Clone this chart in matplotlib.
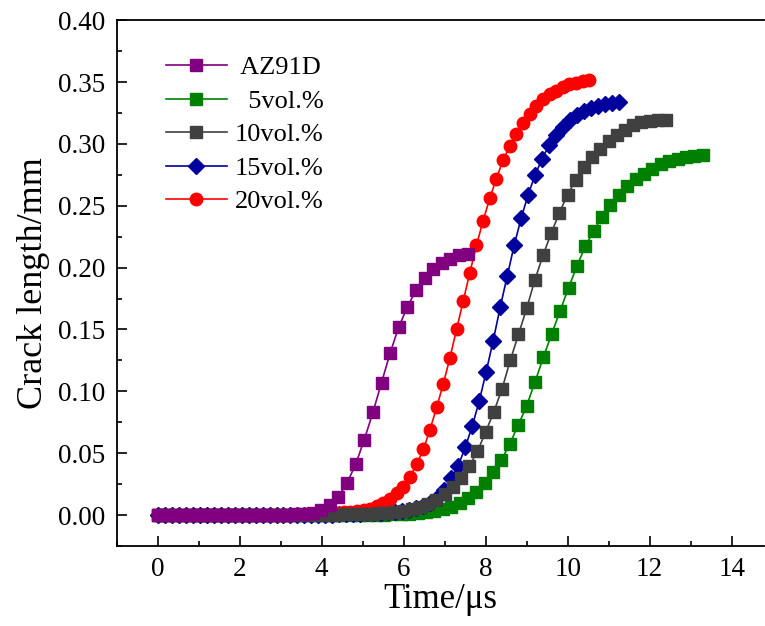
import numpy as np
import matplotlib
matplotlib.use("Agg")
import matplotlib.pyplot as plt
from matplotlib.ticker import MultipleLocator

plt.rcParams['font.family'] = ['Liberation Serif', 'DejaVu Serif']
plt.rcParams['mathtext.fontset'] = 'stix'

# Sampling step (μs) of each simulated crack-growth record
step_az91d = 0.21
step_5 = 0.2045
step_10 = 0.2
step_15 = 0.1705
step_20 = 0.162

# Crack length (mm) at each time step
crack_az91d = [0, 0, 0, 0, 0, 0, 0, 0, 0, 0, 0, 0, 0, 0, 0, 0,
               0.0005, 0.001, 0.002, 0.004, 0.008, 0.015, 0.026, 0.041, 0.061,
               0.083, 0.107, 0.131, 0.152, 0.168, 0.182, 0.192, 0.199, 0.204,
               0.207, 0.210, 0.211]

crack_5 = [0, 0, 0, 0, 0, 0, 0, 0, 0, 0, 0, 0, 0, 0, 0, 0, 0, 0, 0, 0, 0, 0, 0, 0, 0, 0,
           0.0002, 0.0003, 0.0005, 0.0008, 0.0012, 0.0017, 0.0024, 0.0033, 0.0046, 0.0066,
           0.0097, 0.0138, 0.019, 0.026, 0.0345, 0.0445, 0.0575, 0.0728, 0.088, 0.1075,
           0.1275, 0.1465, 0.1652, 0.1835, 0.2012, 0.2172, 0.2297, 0.241, 0.2508, 0.259,
           0.2656, 0.2715, 0.2758, 0.28, 0.2836, 0.286, 0.2878, 0.289, 0.290, 0.291]

crack_10 = [0, 0, 0, 0, 0, 0, 0, 0, 0, 0, 0, 0, 0, 0, 0, 0, 0, 0, 0, 0,
            0.0002, 0.0003, 0.0004, 0.0006, 0.0008, 0.001, 0.0012, 0.0015, 0.002, 0.0025,
            0.0033, 0.0045, 0.0062, 0.0088, 0.0125, 0.0172, 0.023, 0.030, 0.0395, 0.0515,
            0.0672, 0.0835, 0.102, 0.125,
            0.146, 0.167, 0.190, 0.210, 0.228, 0.2445, 0.259, 0.271, 0.281, 0.289, 0.296,
            0.302, 0.3075, 0.3115, 0.315, 0.3175, 0.3185, 0.319, 0.3195]

crack_15 = [0, 0, 0, 0, 0, 0, 0, 0, 0, 0, 0, 0, 0, 0, 0, 0, 0, 0, 0, 0, 0, 0, 0, 0, 0,
            0.0003, 0.0005, 0.0007, 0.0009, 0.0011, 0.0014, 0.0017, 0.002, 0.0023, 0.0027,
            0.0032, 0.004, 0.0055, 0.0075, 0.010, 0.014,
            0.020, 0.0296, 0.040, 0.0547, 0.072, 0.092, 0.116, 0.141, 0.168, 0.193, 0.218,
            0.240, 0.259, 0.275, 0.288, 0.299, 0.307, 0.314, 0.319, 0.323, 0.3267, 0.329,
            0.331, 0.332, 0.333, 0.334]

crack_20 = [0, 0, 0, 0, 0, 0, 0, 0, 0, 0, 0, 0, 0, 0, 0, 0, 0, 0, 0, 0,
            0.0003, 0.0005, 0.0007, 0.001, 0.0012, 0.0015, 0.0018, 0.002, 0.0023, 0.0027,
            0.003, 0.004, 0.0053, 0.0072, 0.0098, 0.013, 0.0175, 0.023, 0.031, 0.041, 0.053,
            0.069, 0.087, 0.106, 0.127, 0.150, 0.173, 0.196, 0.218, 0.238, 0.256, 0.272,
            0.287, 0.298, 0.308, 0.317, 0.324, 0.331, 0.336, 0.340, 0.343, 0.346, 0.348,
            0.3495, 0.3505, 0.3515]

labels = [' AZ91D', '  5vol.%', '10vol.%', '15vol.%', '20vol.%']
colors = ['#800080', '#008000', '#404040', '#00009C', '#FF0000']
markers = ['s', 's', 's', 'D', 'o']
series = [(step_az91d, crack_az91d), (step_5, crack_5), (step_10, crack_10),
          (step_15, crack_15), (step_20, crack_20)]
zorders = [6, 2, 5, 3, 4]

fig = plt.figure(figsize=(7.65, 6.26), dpi=100)
ax = fig.add_axes([0.1525, 0.1278, 0.8468, 0.840])

for (dt, vals), lab, col, mk, zo in zip(series, labels, colors, markers, zorders):
    t = np.arange(len(vals)) * dt
    ms = 8.5 if mk == 'D' else 9
    ax.plot(t, vals, color=col, marker=mk, markersize=ms, linewidth=1.2,
            label=lab, zorder=zo)

ax.set_xlim(-1, 14.8)
ax.set_ylim(-0.025, 0.40)
ax.xaxis.set_major_locator(MultipleLocator(2))
ax.xaxis.set_minor_locator(MultipleLocator(1))
ax.yaxis.set_major_locator(MultipleLocator(0.05))
ax.yaxis.set_minor_locator(MultipleLocator(0.025))
ax.yaxis.set_major_formatter(plt.FormatStrFormatter('%.2f'))

ax.spines['right'].set_visible(False)
for s in ['left', 'bottom', 'top']:
    ax.spines[s].set_linewidth(1.3)

ax.tick_params(which='both', direction='in', top=False, right=False,
               labelsize=19.5, width=1.2)
ax.tick_params(which='major', length=7, pad=8)
ax.tick_params(which='minor', length=3.5)

ax.set_xlabel('Time/μs', fontsize=25, labelpad=1)
ax.set_ylabel('Crack length/mm', fontsize=26, labelpad=6)

leg = ax.legend(loc='upper left', bbox_to_anchor=(0.06, 0.952), frameon=False,
                fontsize=19, handlelength=2.3, handletextpad=0.3,
                labelspacing=0.38, borderaxespad=0)

fig.savefig('out.png', dpi=100)
